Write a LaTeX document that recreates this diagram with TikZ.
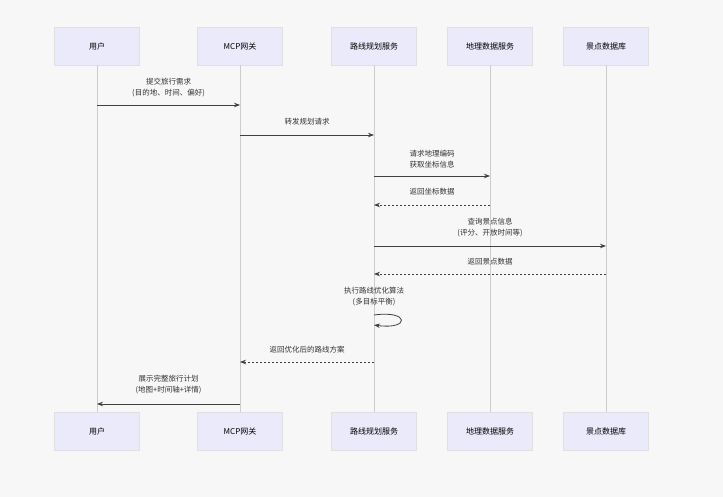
\documentclass[tikz,border=0pt]{standalone}
\usepackage{fontspec}
\setmainfont{Noto Sans CJK SC}
\usetikzlibrary{arrows.meta}
\begin{document}
\begin{tikzpicture}[x=1pt,y=-1pt,
  actor/.style={draw=black!12,fill={rgb,255:red,234;green,234;blue,250},minimum width=85pt,minimum height=38pt,font=\fontsize{8}{9}\selectfont},
  life/.style={draw=black!20,line width=1pt},
  msg/.style={draw=black!75,line width=0.8pt,-{Stealth[length=6pt,width=4.5pt]}},
  ret/.style={msg,dash pattern=on 2pt off 2pt},
  lbl/.style={font=\fontsize{7.5}{11}\selectfont,align=center,text=black!80}]
\fill[white!97!black] (0,0) rectangle (723,497);
\useasboundingbox (0,0) rectangle (723,497);
\foreach \n/\x/\t in {a/97/用户,b/240/MCP网关,c/374/路线规划服务,d/490/地理数据服务,e/606/景点数据库}{
  \node[actor] (\n t) at (\x,46) {\t};
  \node[actor] (\n b) at (\x,431) {\t};
  \draw[life] (\n t.south) -- (\n b.north);
}
\foreach \n/\x in {a/97,b/240,c/374,d/490,e/606}{
  \foreach \y in {105,135,176,205,246,274,315,325,362,404}{
    \coordinate (\n\y) at (\x,\y);
  }
}
\draw[msg] (a105) -- (b105);
\node[lbl] at (168.5,88) {提交旅行需求\\(目的地、时间、偏好)};
\draw[msg] (b135) -- (c135);
\node[lbl] at (307,122) {转发规划请求};
\draw[msg] (c176) -- (d176);
\node[lbl] at (432,159) {请求地理编码\\获取坐标信息};
\draw[ret] (d205) -- (c205);
\node[lbl] at (432,192) {返回坐标数据};
\draw[msg] (c246) -- (e246);
\node[lbl] at (490,228) {查询景点信息\\(评分、开放时间等)};
\draw[ret] (e274) -- (c274);
\node[lbl] at (490,262) {返回景点数据};
\node[lbl] at (374,297) {执行路线优化算法\\(多目标平衡)};
\draw[msg] (c315) .. controls (410,310) and (410,330) .. (c325);
\draw[ret] (c362) -- (b362);
\node[lbl] at (307,350) {返回优化后的路线方案};
\draw[msg] (b404) -- (a404);
\node[lbl] at (168.5,385) {展示完整旅行计划\\(地图+时间轴+详情)};
\end{tikzpicture}
\end{document}
